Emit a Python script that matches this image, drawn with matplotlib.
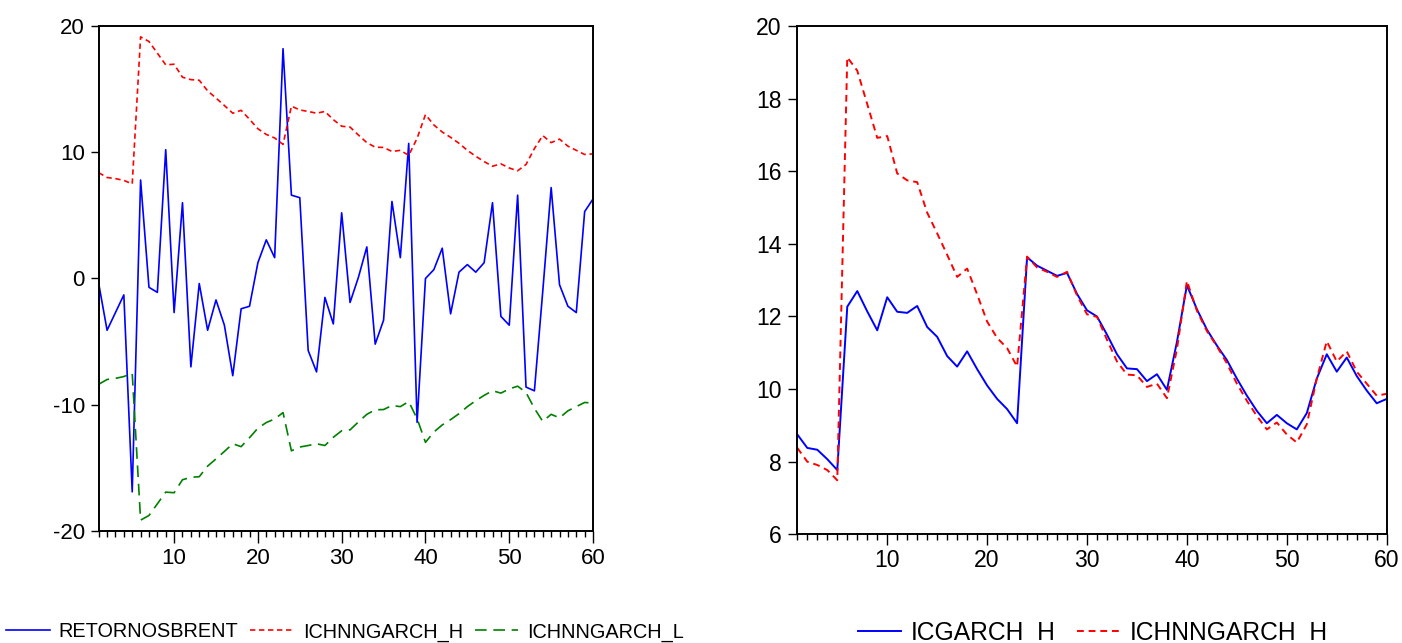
"""Two-panel EViews style chart: Brent returns with NNGARCH band, and ICGARCH vs ICHNNGARCH."""

import matplotlib

matplotlib.use("Agg")
import matplotlib.pyplot as plt
from matplotlib import font_manager
from matplotlib.ticker import MultipleLocator


obs = list(range(1, 61))

retornosbrent = [
    -0.4, -4.1, -2.7, -1.3, -16.9, 7.8, -0.7, -1.1, 10.2, -2.7,
    6.0, -7.0, -0.4, -4.1, -1.7, -3.7, -7.7, -2.4, -2.2, 1.25,
    3.06, 1.65, 18.2, 6.6, 6.4, -5.7, -7.4, -1.5, -3.6, 5.2,
    -1.9, 0.1, 2.5, -5.2, -3.3, 6.1, 1.65, 10.7, -11.4, 0.0,
    0.7, 2.4, -2.8, 0.5, 1.1, 0.5, 1.25, 6.0, -3.0, -3.7,
    6.6, -8.6, -8.9, -1.0, 7.2, -0.5, -2.2, -2.7, 5.3, 6.3,
]

ichnngarch_h = [
    8.38, 8.0, 7.91, 7.77, 7.49, 19.14, 18.77, 17.85, 16.92, 16.97,
    15.94, 15.75, 15.70, 14.86, 14.29, 13.70, 13.09, 13.32, 12.61, 11.86,
    11.41, 11.13, 10.62, 13.65, 13.35, 13.23, 13.09, 13.23, 12.58, 12.06,
    11.99, 11.36, 10.76, 10.40, 10.38, 10.06, 10.15, 9.75, 11.1, 12.98,
    12.16, 11.60, 11.18, 10.71, 10.15, 9.68, 9.26, 8.89, 9.08, 8.75,
    8.53, 9.03, 10.29, 11.32, 10.76, 11.04, 10.48, 10.15, 9.82, 9.87,
]

ichnngarch_l = [
    -8.38, -8.0, -7.91, -7.77, -7.49, -19.14, -18.77, -17.85, -16.92, -16.97,
    -15.94, -15.75, -15.70, -14.86, -14.29, -13.70, -13.09, -13.32, -12.61, -11.86,
    -11.41, -11.13, -10.62, -13.65, -13.35, -13.23, -13.09, -13.23, -12.58, -12.06,
    -11.99, -11.36, -10.76, -10.40, -10.38, -10.06, -10.15, -9.75, -11.1, -12.98,
    -12.16, -11.60, -11.18, -10.71, -10.15, -9.68, -9.26, -8.89, -9.08, -8.75,
    -8.53, -9.03, -10.29, -11.32, -10.76, -11.04, -10.48, -10.15, -9.82, -9.87,
]

icgarch_h = [
    8.75, 8.38, 8.33, 8.07, 7.77, 12.27, 12.70, 12.14, 11.62, 12.53,
    12.13, 12.10, 12.29, 11.71, 11.44, 10.91, 10.62, 11.04, 10.55, 10.10,
    9.73, 9.45, 9.06, 13.63, 13.40, 13.26, 13.12, 13.20, 12.62, 12.17,
    12.0, 11.50, 10.96, 10.57, 10.55, 10.22, 10.41, 9.98, 11.3, 12.86,
    12.2, 11.64, 11.20, 10.80, 10.29, 9.82, 9.40, 9.06, 9.29, 9.06,
    8.89, 9.34, 10.29, 10.96, 10.48, 10.87, 10.36, 9.96, 9.61, 9.73,
]

left_yticks = [-20, -10, 0, 10, 20]
right_yticks = [6, 8, 10, 12, 14, 16, 18, 20]
xticks = [10, 20, 30, 40, 50, 60]


def has_font(name):
    return any(f.name == name for f in font_manager.fontManager.ttflist)


# the left panel was squeezed horizontally in the original; a narrow face fits it best
NARROW = "Liberation Sans Narrow" if has_font("Liberation Sans Narrow") else "Liberation Sans"
REGULAR = "Liberation Sans"
LEFT_TICK_SIZE = 17 if NARROW != REGULAR else 16
LEFT_LEGEND_SIZE = 16.5 if NARROW != REGULAR else 14.3

plt.rcParams["axes.unicode_minus"] = False


def style_axis(ax, family, size, major_len, minor_len, ylen, ypad, xpad):
    ax.set_xlim(1, 60)
    ax.set_xticks(xticks)
    ax.xaxis.set_minor_locator(MultipleLocator(1))
    ax.tick_params(axis="x", which="major", direction="out", length=major_len, width=1.0,
                   pad=xpad, top=False)
    ax.tick_params(axis="x", which="minor", direction="out", length=minor_len, width=1.0, top=False)
    ax.tick_params(axis="y", which="major", direction="out", length=ylen, width=1.0,
                   pad=ypad, right=False)
    for spine in ax.spines.values():
        spine.set_linewidth(1.4)
        spine.set_color("black")
    for label in ax.get_xticklabels() + ax.get_yticklabels():
        label.set_fontfamily(family)
        label.set_fontsize(size)


def main():
    fig = plt.figure(figsize=(14.02, 6.43), dpi=100)

    # left panel: returns with the upper/lower band
    ax1 = fig.add_axes([0.0704, 0.1742, 0.3526, 0.7854])
    ax1.plot(obs, retornosbrent, color="#0000ff", lw=1.2, label="RETORNOSBRENT")
    ax1.plot(obs, ichnngarch_h, color="#ff0000", lw=1.2, dashes=(3.2, 2.2), label="ICHNNGARCH_H")
    ax1.plot(obs, ichnngarch_l, color="#008000", lw=1.2, dashes=(7, 4), label="ICHNNGARCH_L")
    ax1.set_ylim(-20, 20)
    ax1.set_yticks(left_yticks)
    style_axis(ax1, NARROW, LEFT_TICK_SIZE, 8.4, 4.0, 6.0, 4.0, 3.5)

    # right panel: the two variance series
    ax2 = fig.add_axes([0.5687, 0.169, 0.4204, 0.7905])
    ax2.plot(obs, icgarch_h, color="#0000ff", lw=1.4, label="ICGARCH_H")
    ax2.plot(obs, ichnngarch_h, color="#ff0000", lw=1.4, dashes=(3.5, 2.5), label="ICHNNGARCH_H")
    ax2.set_ylim(6, 20)
    ax2.set_yticks(right_yticks)
    style_axis(ax2, REGULAR, 16.6, 7.7, 4.5, 6.5, 5.0, 3.0)

    h1, l1 = ax1.get_legend_handles_labels()
    fig.legend(h1, l1, loc="center", bbox_to_anchor=(345 / 1402, 1 - 632 / 643), ncol=3,
               frameon=False, prop={"family": NARROW, "size": LEFT_LEGEND_SIZE}, handlelength=2.2,
               handletextpad=0.45, columnspacing=0.6, borderpad=0, borderaxespad=0)
    h2, l2 = ax2.get_legend_handles_labels()
    fig.legend(h2, l2, loc="center", bbox_to_anchor=(1093 / 1402, 1 - 633 / 643), ncol=2,
               frameon=False, prop={"family": REGULAR, "size": 17.7}, handlelength=1.75,
               handletextpad=0.4, columnspacing=0.85, borderpad=0, borderaxespad=0)

    fig.savefig("out.png", dpi=100)
    plt.close(fig)


if __name__ == "__main__":
    main()
